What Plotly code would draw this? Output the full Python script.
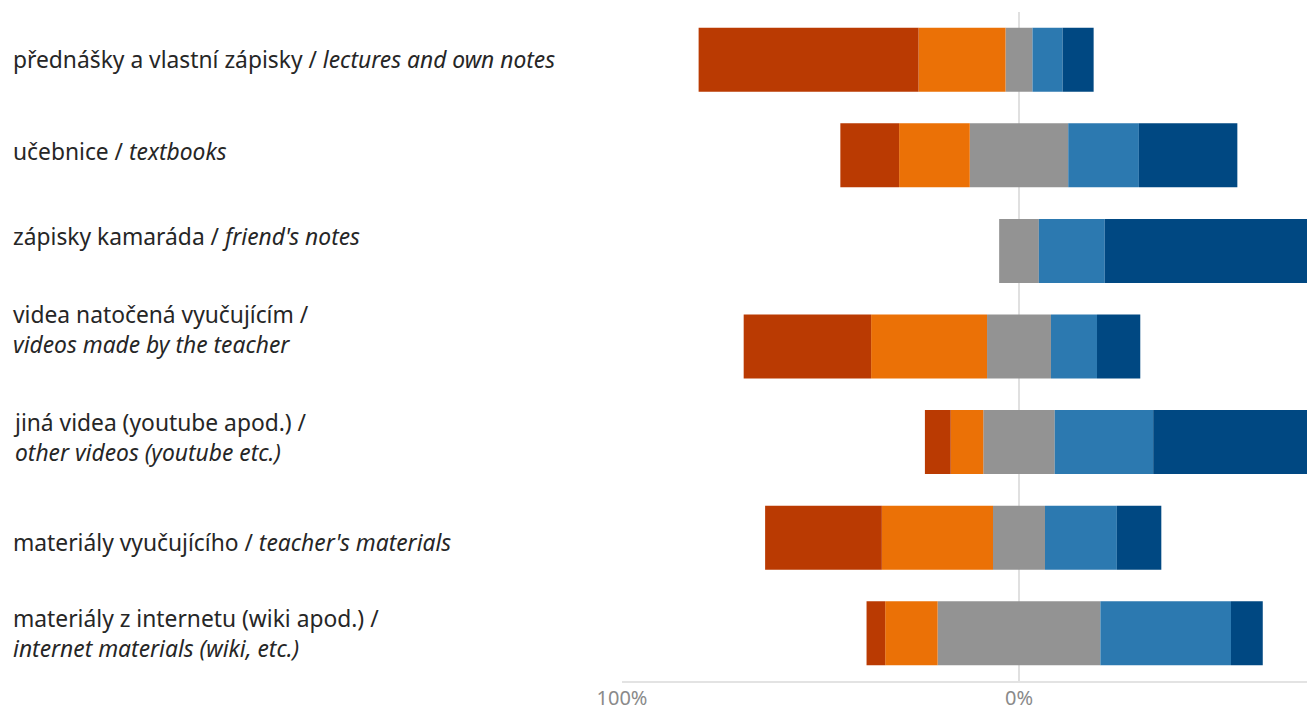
import plotly.graph_objects as go

categories = [
    "přednášky a vlastní zápisky / <i>lectures and own notes</i>",
    "učebnice / <i>textbooks</i>",
    "zápisky kamaráda / <i>friend's notes</i>",
    "videa natočená vyučujícím /<br><i>videos made by the teacher</i>",
    "jiná videa (youtube apod.) /<br><i>other videos (youtube etc.)</i>",
    "materiály vyučujícího / <i>teacher's materials</i>",
    "materiály z internetu (wiki apod.) /<br><i>internet materials (wiki, etc.)</i>",
]
strongly_neg = [55.4, 14.8, 0.0, 32.1, 6.5, 29.4, 4.7]
neg = [21.9, 17.8, 0.0, 29.2, 8.2, 28.0, 13.2]
neutral = [6.8, 24.8, 10.0, 16.1, 18.0, 13.1, 41.0]
pos = [7.6, 17.8, 16.6, 11.6, 24.8, 18.1, 32.9]
strongly_pos = [7.8, 24.8, 73.4, 10.9, 42.5, 11.2, 8.0]

tick_vals = [-100, 0]
tick_text = ["100%", "0%"]

# layout-only: vertical nudge (px) of each left label relative to its bar
label_shift_px = [0, 4, 14, 17, 5, -5, 0]

C_RED = "#BA3A02"
C_ORANGE = "#EB7106"
C_GRAY = "#939393"
C_LBLUE = "#2C79B0"
C_DBLUE = "#004882"

W, H = 1307, 710
ML, MR, MT, MB = 622, 0, 12, 29
LABEL_X_PX = 11
PX_PER_PCT = 3.97

ykeys = list(range(len(categories)))

fig = go.Figure()
def add(vals, color, sign=1.0):
    fig.add_trace(go.Bar(
        y=ykeys, x=[sign * v for v in vals], orientation="h",
        marker=dict(color=color, line=dict(width=0)),
        width=0.67, showlegend=False, hoverinfo="skip",
    ))

add([v / 2 for v in neutral], C_GRAY, -1)
add(neg, C_ORANGE, -1)
add(strongly_neg, C_RED, -1)
add([v / 2 for v in neutral], C_GRAY, 1)
add(pos, C_LBLUE, 1)
add(strongly_pos, C_DBLUE, 1)

label_x = (LABEL_X_PX - ML) / (W - ML - MR)
for i, lab in enumerate(categories):
    fig.add_annotation(
        x=label_x, xref="paper", y=i, yref="y", text=lab,
        showarrow=False, xanchor="left", yanchor="middle", align="left",
        yshift=label_shift_px[i],
        font=dict(size=22.8, color="#262626", family="Noto Sans"),
    )

fig.update_layout(
    width=W, height=H,
    margin=dict(l=ML, r=MR, t=MT, b=MB, pad=0, autoexpand=False),
    barmode="relative", bargap=0.33,
    plot_bgcolor="white", paper_bgcolor="white",
    font=dict(family="Noto Sans"),
)
fig.update_xaxes(
    range=[-100, (W - ML - MR) / PX_PER_PCT - 100],
    tickvals=tick_vals, ticktext=tick_text,
    showgrid=True, gridcolor="#E0E0E0", gridwidth=1.5,
    zeroline=False, showline=True, linecolor="#E3E3E3", linewidth=1.5,
    ticks="", tickfont=dict(size=20, color="#8A8A8A"), ticklabelstandoff=-2,
    layer="above traces", fixedrange=True, automargin=False,
)
fig.update_yaxes(
    range=[len(categories) - 0.5, -0.5],
    showticklabels=False, showgrid=False, zeroline=False, ticks="",
    fixedrange=True, automargin=False,
)

fig.write_html(
    "out.html",
    config={"displayModeBar": False, "staticPlot": True},
    post_script="document.body.style.margin='0';document.body.style.overflow='hidden';",
)
